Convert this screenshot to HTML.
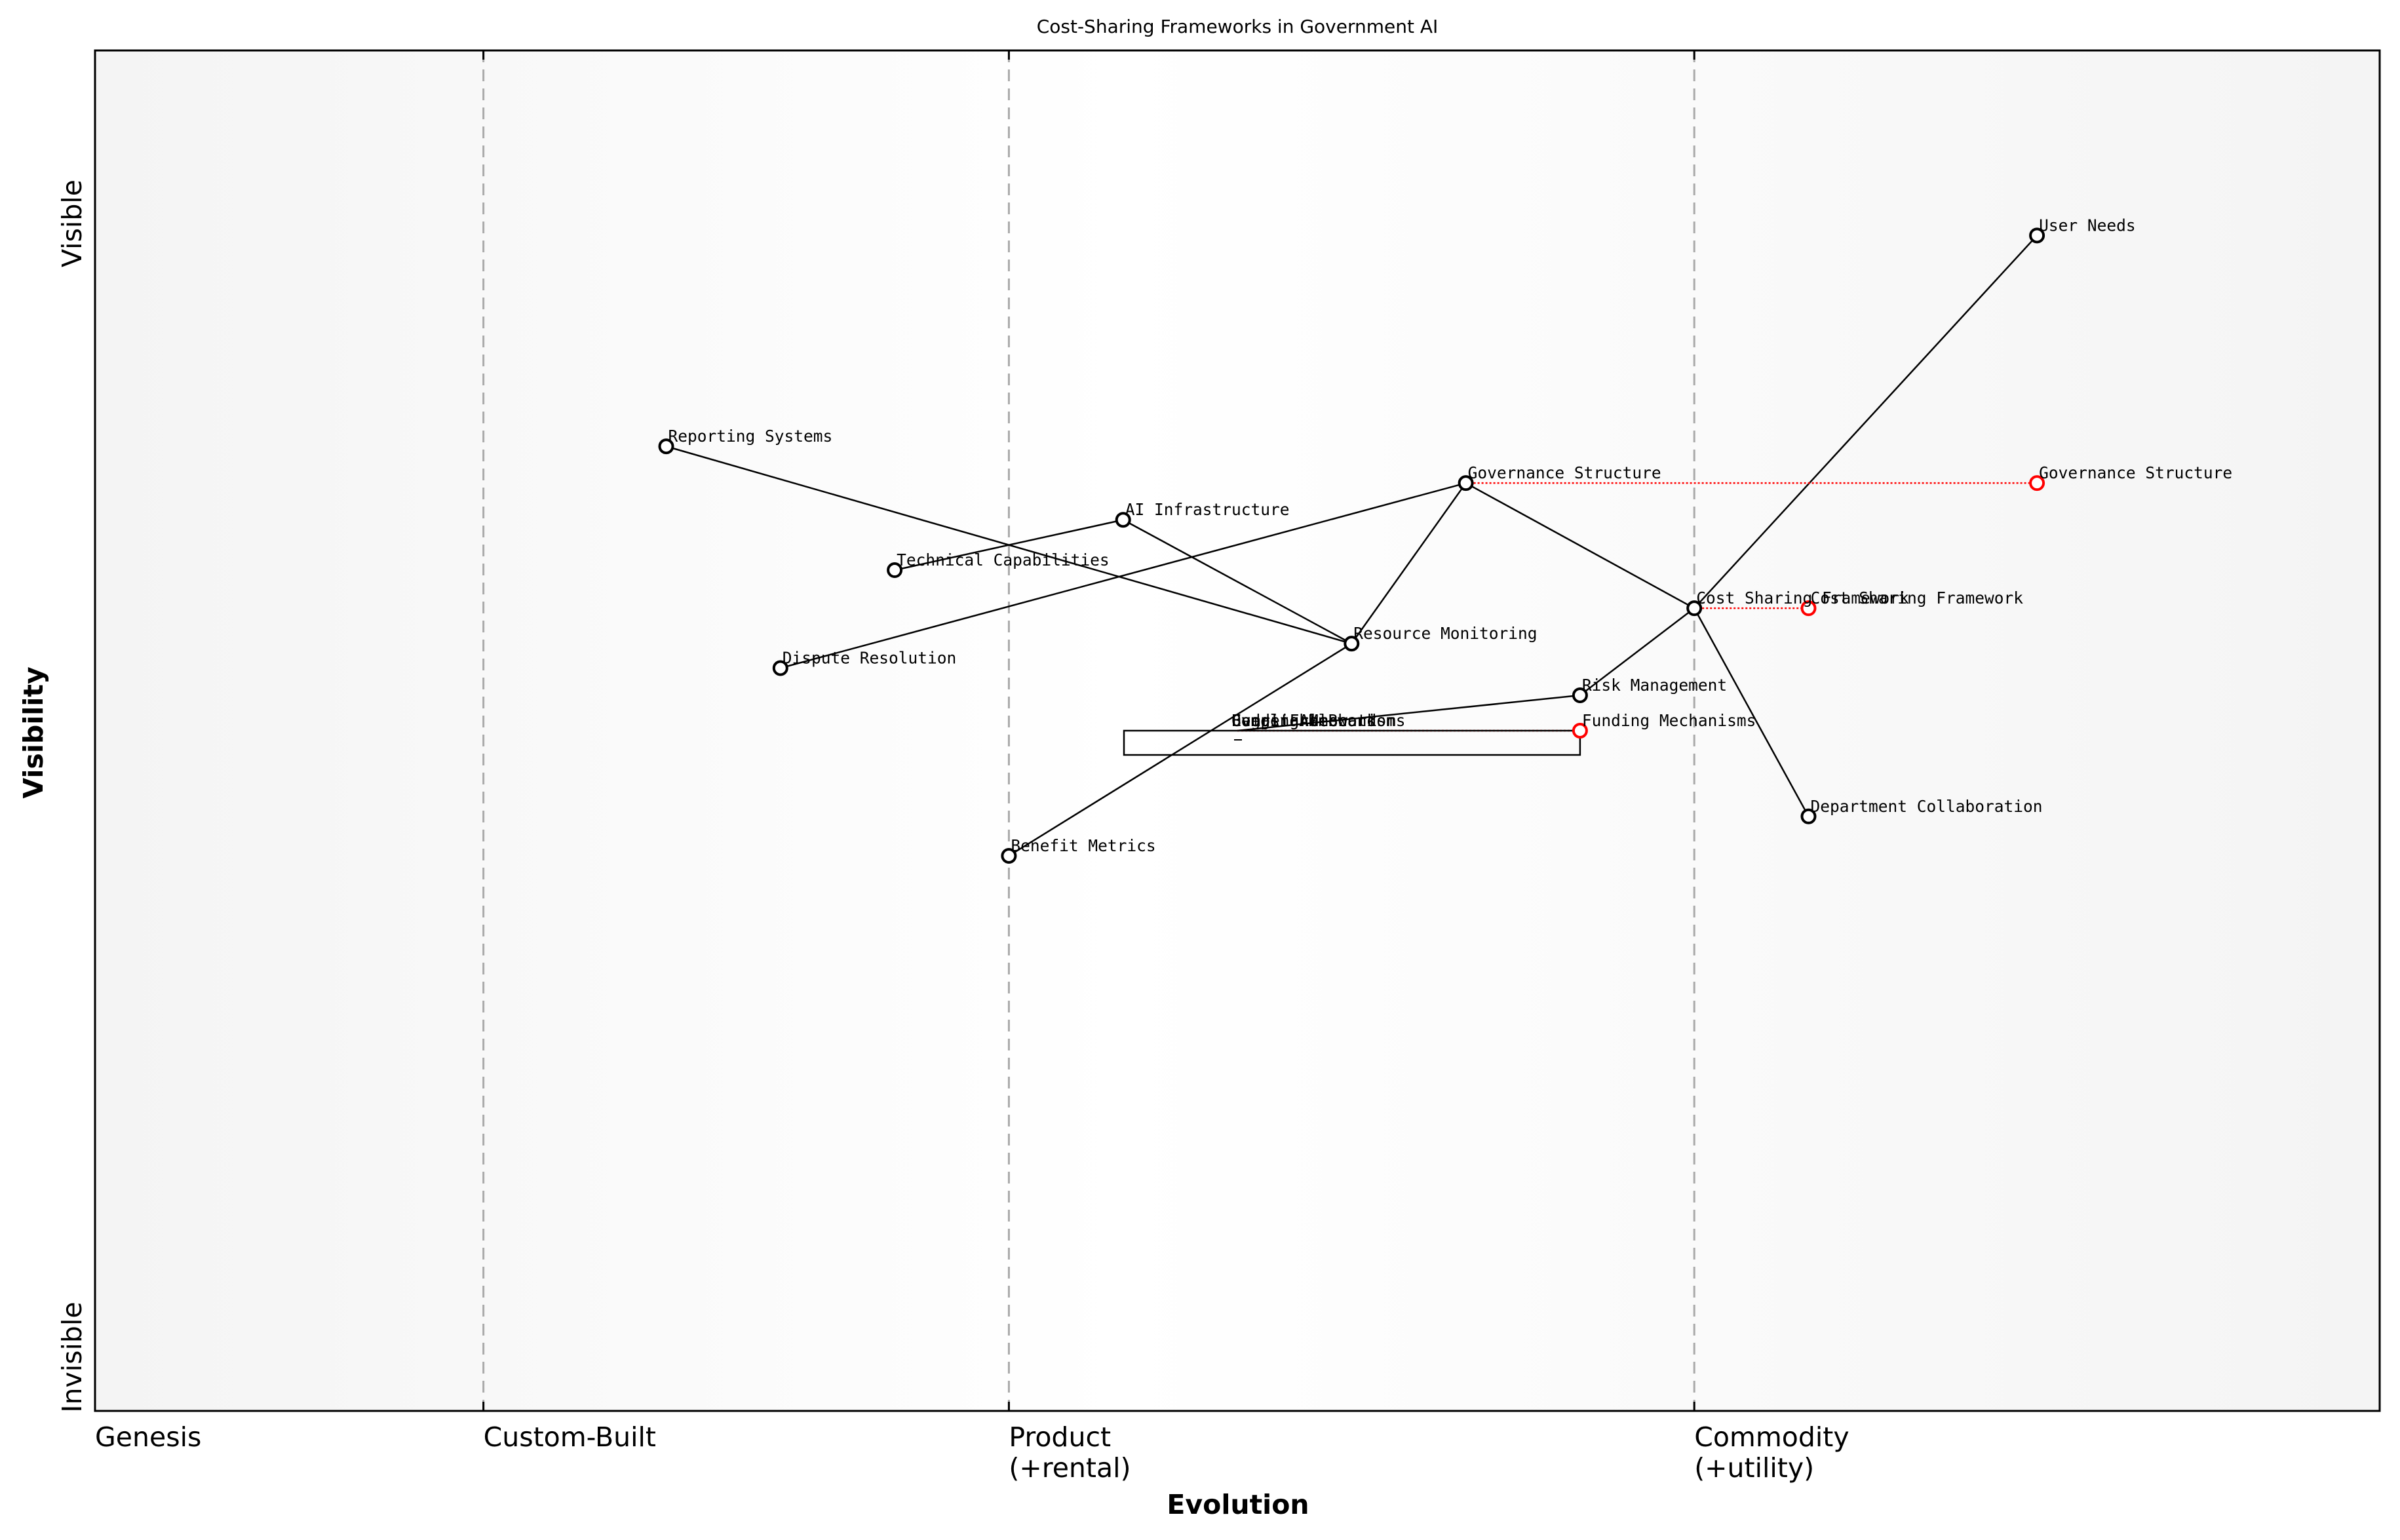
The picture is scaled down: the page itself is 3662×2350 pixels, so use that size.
<!DOCTYPE html>
<html><head><meta charset="utf-8"><style>
html,body{margin:0;padding:0;background:#fff;}
svg{display:block;}
</style></head><body>
<svg id="chart" width="3662" height="2350" xmlns="http://www.w3.org/2000/svg" font-family="'DejaVu Sans','Liberation Sans',sans-serif">
<defs>
<linearGradient id="bg" x1="0" x2="1" y1="0" y2="0">
<stop offset="0" stop-color="#f4f4f4"/><stop offset="0.45" stop-color="#ffffff"/><stop offset="1" stop-color="#f4f4f4"/>
</linearGradient>
</defs>
<rect x="145" y="77" width="3486" height="2076" fill="url(#bg)"/>
<g id="grid"></g>
<g id="edges"></g>
<g id="extras"></g>
<g id="nodes"></g>
<rect x="145" y="77" width="3486" height="2076" fill="none" stroke="#000" stroke-width="3"/>
<text x="1888" y="50" font-size="28" text-anchor="middle">Cost-Sharing Frameworks in Government AI</text>
<text transform="translate(124,341) rotate(-90)" font-size="41" text-anchor="middle">Visible</text>
<text transform="translate(124,2071) rotate(-90)" font-size="41" text-anchor="middle">Invisible</text>
<text transform="translate(65,1118) rotate(-90)" font-size="41" font-weight="bold" text-anchor="middle">Visibility</text>
<text x="1889" y="2310" font-size="41" font-weight="bold" text-anchor="middle">Evolution</text>
<g id="xticks"></g>
</svg>
<script>
const W0=145,W1=3631,H0=2153,H1=77;
function sx(v){return W0+v*(W1-W0);}
function sy(v){return H0-v*(H0-H1);}
const NS='http://www.w3.org/2000/svg';
function mk(tag,attrs,parent){const e=document.createElementNS(NS,tag);for(const k in attrs)e.setAttribute(k,attrs[k]);parent.appendChild(e);return e;}

const stageNames=["Genesis","Custom-Built","Product\n(+rental)","Commodity\n(+utility)"];
const stagePos=[0,0.17,0.40,0.70];

const nodeNames=["User Needs","Governance Structure","Cost Sharing Framework","Reporting Systems","AI Infrastructure","Technical Capabilities","Resource Monitoring","Dispute Resolution","Risk Management","Department Collaboration","Benefit Metrics","Funding Mechanisms"];
const nodeEvo=[0.85,0.60,0.70,0.25,0.45,0.35,0.55,0.30,0.65,0.75,0.40,0.50];
const nodeVis=[0.864,0.682,0.59,0.709,0.655,0.618,0.564,0.546,0.526,0.437,0.408,0.50];
const edgeFrom=[0,2,2,2,1,1,6,6,6,4,8];
const edgeTo=[2,1,8,9,6,7,4,3,10,5,11];
const moveFrom=[1,2,11];
const moveToEvo=[0.85,0.75,0.65];

const grid=document.getElementById('grid');
const xt=document.getElementById('xticks');
stagePos.forEach((p,i)=>{
  const x=sx(p);
  if(i>0){
    const l=mk('line',{x1:x,x2:x,y1:H1,y2:H0,stroke:'#aaa','stroke-width':3,'stroke-dasharray':'18,11'},grid);
    
    
    mk('line',{x1:x,x2:x,y1:H1,y2:H1+14,stroke:'#000','stroke-width':3},grid);
    mk('line',{x1:x,x2:x,y1:H0-14,y2:H0,stroke:'#000','stroke-width':3},grid);
  }
  const t=mk('text',{x:x,y:2207,'font-size':41},xt);
  
  
  stageNames[i].split('\n').forEach((s,j)=>{const ts=mk('tspan',{x:x,dy:j?47:0},t);ts.textContent=s;});
});

const edges=document.getElementById('edges');
edgeFrom.forEach((f,i)=>{
  const t=edgeTo[i];
  const l=mk('line',{x1:sx(nodeEvo[f]),y1:sy(nodeVis[f]),x2:sx(nodeEvo[t]),y2:sy(nodeVis[t]),stroke:'#000','stroke-width':2.5},edges);
  
  
});
const ex=document.getElementById('extras');
const box=mk('rect',{x:1715,y:sy(0.5),width:sx(0.65)-1715,height:37,fill:'none',stroke:'#000','stroke-width':2.5},ex);


mk('line',{x1:1883,x2:1895,y1:1129,y2:1129,stroke:'#000','stroke-width':2},ex);

const nodes=document.getElementById('nodes');
moveFrom.forEach((f,i)=>{
  const l=mk('line',{x1:sx(nodeEvo[f]),y1:sy(nodeVis[f]),x2:sx(moveToEvo[i]),y2:sy(nodeVis[f]),stroke:'red','stroke-width':2.5,'stroke-dasharray':'3,3'},edges);
  
  
  const c=mk('circle',{cx:sx(moveToEvo[i]),cy:sy(nodeVis[f]),r:10,fill:'#fff',stroke:'red','stroke-width':4},nodes);
  
  
  const t=mk('text',{x:sx(moveToEvo[i])+3,y:sy(nodeVis[f])-7,'font-size':24.5,'font-family':"'DejaVu Sans Mono','Liberation Mono',monospace"},nodes);
  t.textContent=nodeNames[f];
  
  
});
nodeNames.forEach((n,i)=>{
  const x=sx(nodeEvo[i]),y=sy(nodeVis[i]);
  if(i!==11){
    const c=mk('circle',{cx:x,cy:y,r:10,fill:'#fff',stroke:'#000','stroke-width':4},nodes);
    
    
  }
  const t=mk('text',{x:x+(i===11?-9:3),y:y-7,'font-size':24.5,'font-family':"'DejaVu Sans Mono','Liberation Mono',monospace"},nodes);
  t.textContent=n;
  
  
});
["Oversight Board","Legal Framework","Compliance","Budget Allocation"].forEach(s=>{
  const t=mk('text',{x:sx(0.5)-9,y:sy(0.5)-7,'font-size':24.5,'font-family':"'DejaVu Sans Mono','Liberation Mono',monospace"},nodes);
  t.textContent=s;
  
  
});
</script>
</body></html>
